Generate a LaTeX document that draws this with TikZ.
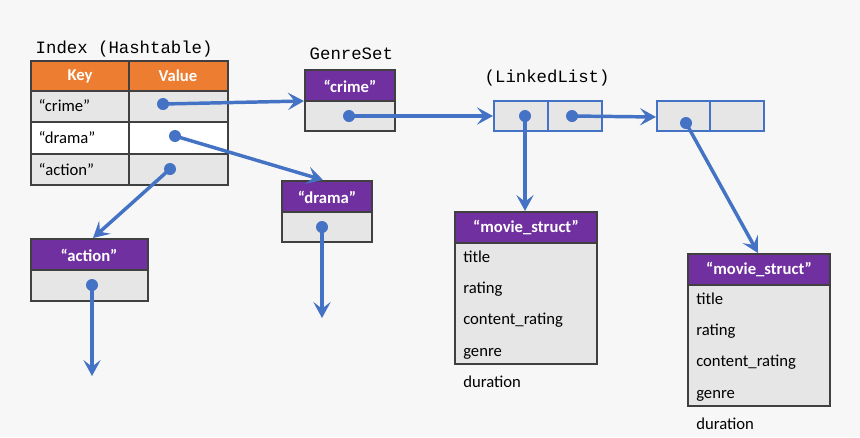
\documentclass[tikz,border=0pt]{standalone}
\usepackage{fontspec}
\setmainfont{Carlito}
\setmonofont{Liberation Mono}
\usetikzlibrary{arrows.meta}
\definecolor{bg}{HTML}{F7F7F7}
\definecolor{org}{HTML}{ED7D31}
\definecolor{pur}{HTML}{7030A0}
\definecolor{cell}{HTML}{E7E6E6}
\definecolor{blu}{HTML}{4472C4}
\definecolor{edge}{HTML}{404040}
\begin{document}
\begin{tikzpicture}[x=0.75pt,y=-0.75pt,
 cellb/.style={draw=edge,line width=1pt},
 hdr/.style={font=\bfseries\fontsize{12.5}{14}\selectfont,text=white},
 txt/.style={font=\fontsize{12.5}{14}\selectfont},
 mono/.style={font=\ttfamily\fontsize{13}{15}\selectfont,anchor=base west},
 dotc/.style={circle,fill=blu,inner sep=0pt,minimum size=9pt},
 arr/.style={blu,line width=2.6pt,-{Stealth[length=12pt,width=13pt,inset=5pt]}},
 ll/.style={draw=blu,line width=2.2pt,fill=cell}]
\fill[bg] (0,0) rectangle (860,437);
\useasboundingbox (0,0) rectangle (860,437);
% Index table
\node[mono] (lidx) at (31,53) {Index (Hashtable)};
\fill[org] (31,61) rectangle (228,91);
\fill[cell] (31,91) rectangle (228,122);
\fill[white] (31,122) rectangle (228,154);
\fill[cell] (31,154) rectangle (228,185);
\draw[cellb] (31,61) rectangle (228,185);
\foreach \y in {91,122,154} \draw[cellb] (31,\y) -- (228,\y);
\draw[cellb] (129,61) -- (129,185);
\node[hdr] (kh) at (80,76) {Key};
\node[hdr] (vh) at (178,76) {Value};
\node[txt,anchor=west] (k1) at (34,106) {“crime”};
\node[txt,anchor=west] (k2) at (34,138) {“drama”};
\node[txt,anchor=west] (k3) at (34,170) {“action”};
\node[dotc] (d1) at (163,104) {};
\node[dotc] (d2) at (175,136) {};
\node[dotc] (d3) at (170,169) {};
% GenreSet crime
\node[mono] (lgs) at (305,59) {GenreSet};
\fill[pur] (305,70) rectangle (395,101);
\fill[cell] (395,101) rectangle (305,131);
\draw[cellb] (305,70) rectangle (395,131);
\draw[cellb] (305,101) -- (395,101);
\node[hdr] (hc) at (350,86) {“crime”};
\coordinate (crimeL) at (304,101);
\node[dotc] (dc) at (349,116) {};
% drama
\fill[pur] (282,181) rectangle (372,212);
\fill[cell] (282,212) rectangle (372,242);
\draw[cellb] (282,181) rectangle (372,242);
\draw[cellb] (282,212) -- (372,212);
\node[hdr] (hd) at (327,197) {“drama”};
\coordinate (dramaT) at (323,180);
\node[dotc] (dd) at (322,227) {};
\coordinate (dramaE) at (322,318);
% action
\fill[pur] (31,239) rectangle (148,270);
\fill[cell] (31,270) rectangle (148,301);
\draw[cellb] (31,239) rectangle (148,301);
\draw[cellb] (31,270) -- (148,270);
\node[hdr] (ha) at (89,255) {“action”};
\coordinate (actionT) at (93,238);
\node[dotc] (da) at (92,285) {};
\coordinate (actionE) at (92,376);
% linked list
\node[mono] (lll) at (480,82) {(LinkedList)};
\draw[ll] (494,101) rectangle (602,131);
\draw[blu,line width=2.2pt] (548,101) -- (548,131);
\draw[ll] (657,101) rectangle (764,131);
\draw[blu,line width=2.2pt] (710,101) -- (710,131);
\coordinate (n1L) at (493,116);
\coordinate (n2L) at (656,117);
\node[dotc] (n1a) at (525,116) {};
\node[dotc] (n1b) at (572,116) {};
\node[dotc] (n2a) at (686,123) {};
% movie structs
\foreach \nm/\x/\y in {m1/455/212,m2/688/254}{
 \fill[pur] (\x,\y) rectangle ++(142,31);
 \fill[cell] (\x,\y+31) rectangle ++(142,121);
 \draw[cellb] (\x,\y) rectangle ++(142,152);
 \draw[cellb] (\x,\y+31) -- ++(142,0);
 \node[hdr] (\nm h) at (\x+71,\y+16) {“movie\_struct”};
 \node[txt,anchor=north west,align=left,inner sep=0pt,
   font=\fontsize{12.5}{23.3}\selectfont] (\nm b) at (\x+8,\y+39)
   {title\\rating\\content\_rating\\genre\\duration};
 \coordinate (\nm T) at (\x+70,\y-1);
}
% arrows
\draw[arr] (d1.center) -- (crimeL);
\draw[arr] (d2.center) -- (dramaT);
\draw[arr] (d3.center) -- (actionT);
\draw[arr] (dc.center) -- (n1L);
\draw[arr] (n1b.center) -- (n2L);
\draw[arr] (n1a.center) -- (m1T);
\draw[arr] (n2a.center) -- (m2T);
\draw[arr] (dd.center) -- (dramaE);
\draw[arr] (da.center) -- (actionE);
\end{tikzpicture}
\end{document}
